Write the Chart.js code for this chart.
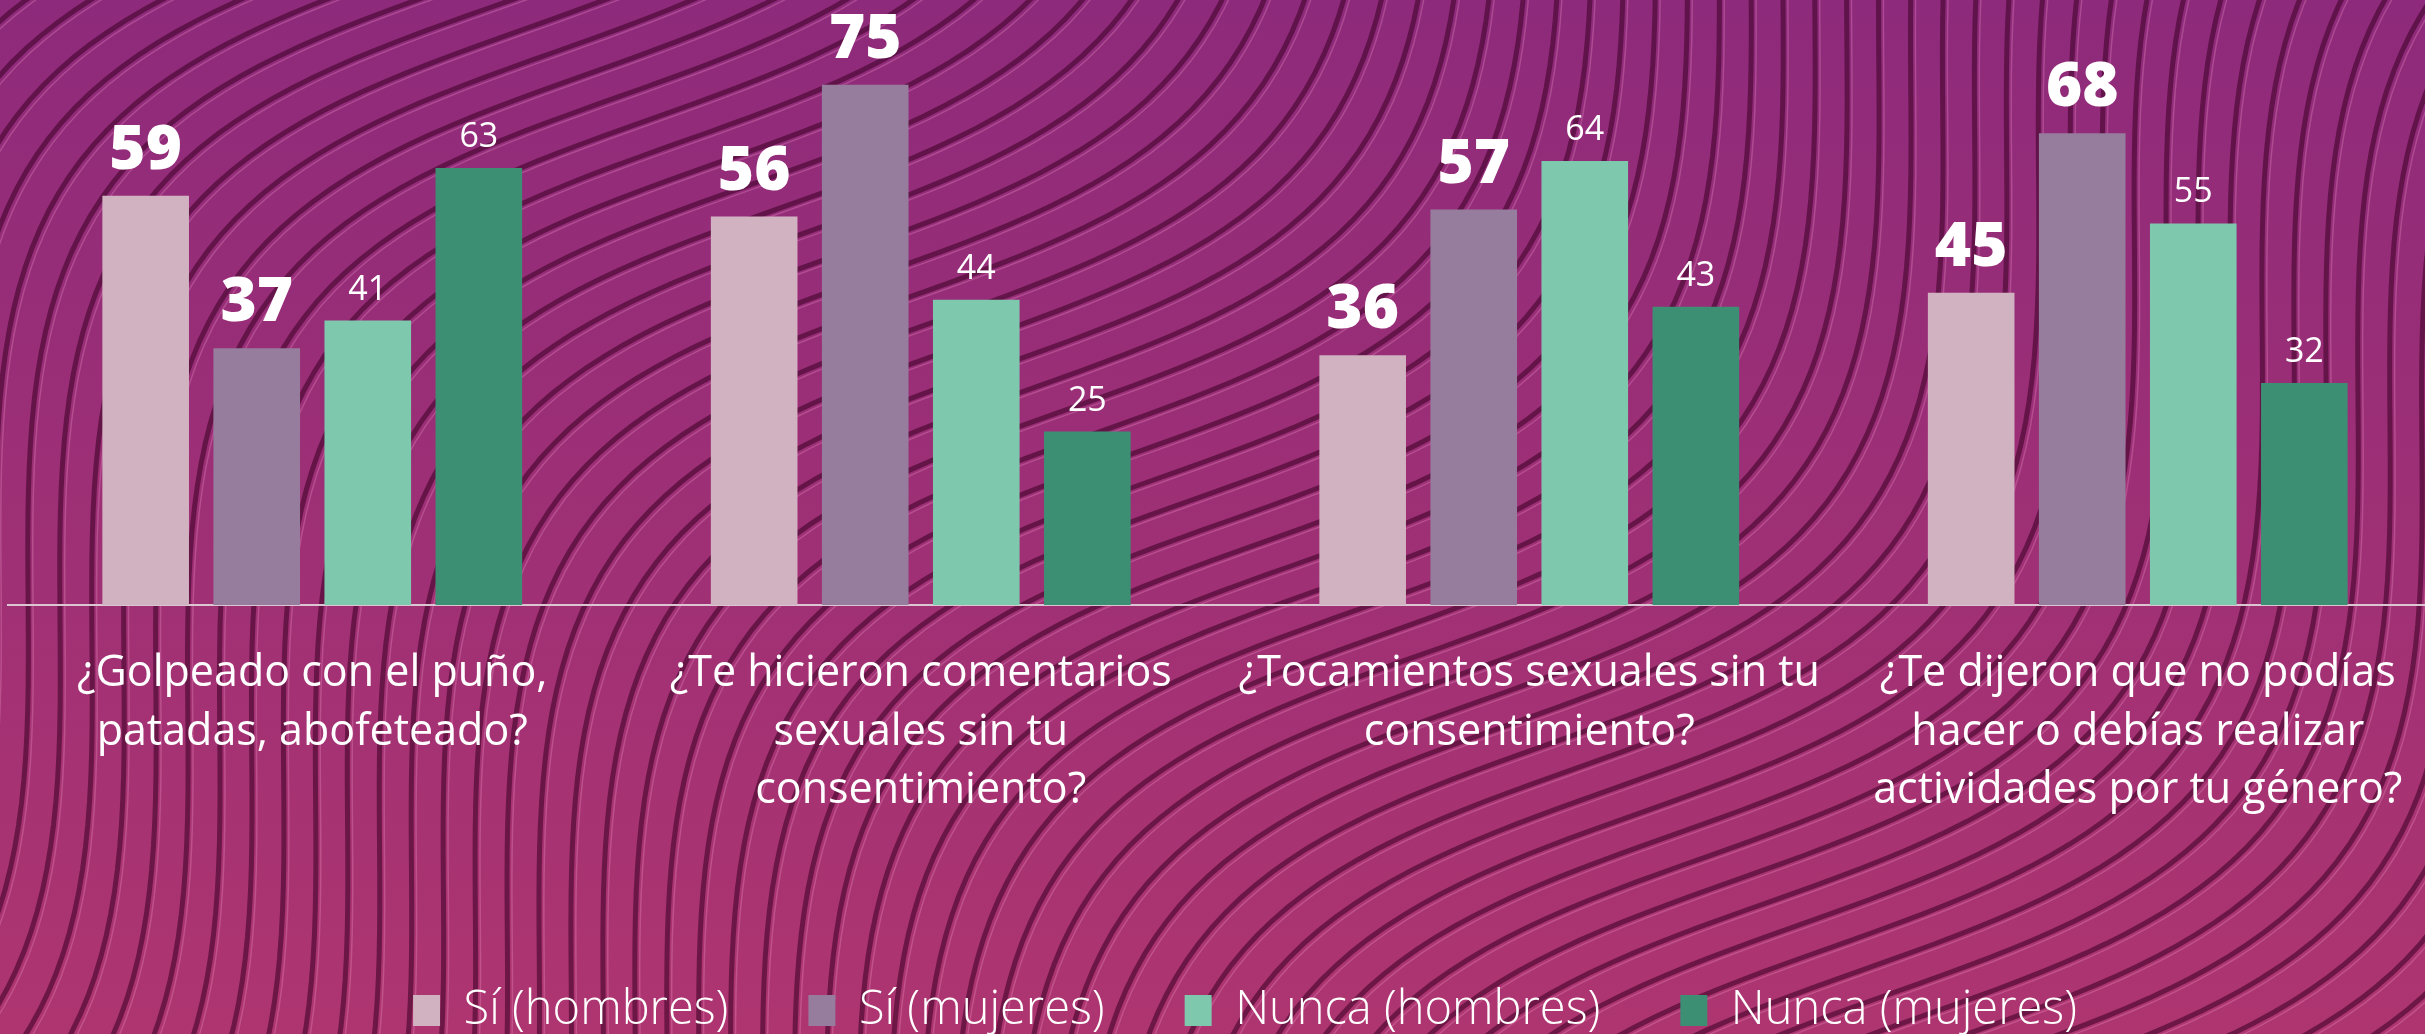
<!DOCTYPE html>
<html>
<head>
<meta charset="utf-8">
<script src="https://cdn.jsdelivr.net/npm/chart.js@4.4.1/dist/chart.umd.min.js"></script>
<style>
  html, body { margin: 0; padding: 0; overflow: hidden; background: #9a2e76; }
  #wrap { width: 2450px; height: 1044px; }
</style>
</head>
<body>
<div id="wrap"><canvas id="chart" width="2450" height="1044"></canvas></div>
<script>
// preguntas (eje x), una línea por elemento
const categories = [
    ["¿Golpeado con el puño,", "patadas, abofeteado?"],
    ["¿Te hicieron comentarios", "sexuales sin tu", "consentimiento?"],
    ["¿Tocamientos sexuales sin tu", "consentimiento?"],
    ["¿Te dijeron que no podías", "hacer o debías realizar", "actividades por tu género?"],
];

const siHombres = [59, 56, 36, 45];
const siMujeres = [37, 75, 57, 68];
const nuncaHombres = [41, 44, 64, 55];
const nuncaMujeres = [63, 25, 43, 32];

const seriesNames = ["Sí (hombres)", "Sí (mujeres)", "Nunca (hombres)", "Nunca (mujeres)"];
const seriesColors = ["#d1b2c1", "#967d9d", "#7ec8ae", "#3c8f73"];
const seriesValues = [siHombres, siMujeres, nuncaHombres, nuncaMujeres];

const FONT = "'Open Sans', 'Noto Sans', sans-serif";

// fondo morado con líneas onduladas
const background = {
    id: "background",
    beforeDraw(chart) {
        const { ctx, width, height } = chart;
        ctx.save();
        const g = ctx.createLinearGradient(0, 0, 0, height);
        g.addColorStop(0, "#8e2a7b");
        g.addColorStop(1, "#ae3570");
        ctx.fillStyle = g;
        ctx.fillRect(0, 0, width, height);

        const th = 55 * Math.PI / 180;
        const es = [Math.cos(th), -Math.sin(th)];
        const en = [Math.sin(th), Math.cos(th)];
        const cx = width / 2, cy = height / 2;
        const amp = 170, period = 1500, gap = 39;
        for (let k = -70; k <= 70; k++) {
            for (const pass of [0, 1]) {
                ctx.beginPath();
                for (let s = -2000; s <= 2000; s += 20) {
                    const n = amp * Math.sin(2 * Math.PI * s / period) + k * gap + (pass ? 6 : 0);
                    const x = cx + s * es[0] + n * en[0];
                    const y = cy + s * es[1] + n * en[1];
                    if (s === -2000) ctx.moveTo(x, y); else ctx.lineTo(x, y);
                }
                ctx.strokeStyle = pass ? "rgba(255,170,215,0.25)" : "rgba(65,4,42,0.6)";
                ctx.lineWidth = pass ? 1.5 : 5;
                ctx.stroke();
            }
        }
        ctx.restore();
    },
};

// la leyenda del original está algo desplazada a la derecha
const legendShift = {
    id: "legendShift",
    afterLayout(chart) {
        chart.legend.left += 20;
        chart.legend.right += 20;
    },
};

// números encima de cada barra
const valueLabels = {
    id: "valueLabels",
    afterDatasetsDraw(chart) {
        const ctx = chart.ctx;
        ctx.save();
        ctx.fillStyle = "#ffffff";
        ctx.textAlign = "center";
        ctx.textBaseline = "alphabetic";
        chart.data.datasets.forEach((ds, i) => {
            const bold = i < 2;
            ctx.font = bold ? `800 62px ${FONT}` : `400 34px ${FONT}`;
            chart.getDatasetMeta(i).data.forEach((bar, j) => {
                ctx.fillText(ds.data[j], bar.x, bar.y - (bold ? 27 : 21));
            });
        });
        ctx.restore();
    },
};

const data = {
    labels: categories,
    datasets: seriesNames.map((name, i) => ({
        label: name,
        data: seriesValues[i],
        backgroundColor: seriesColors[i],
        borderWidth: 0,
        categoryPercentage: 0.73,
        barPercentage: 0.78,
    })),
};

const config = {
    type: "bar",
    data: data,
    options: {
        responsive: false,
        animation: false,
        layout: { padding: { top: 50, left: 8, right: 8, bottom: 0 } },
        plugins: {
            legend: {
                position: "bottom",
                labels: {
                    color: "#ffffff",
                    font: { family: FONT, size: 47, weight: "300", lineHeight: 1 },
                    boxWidth: 27,
                    boxHeight: 31,
                    padding: 80,
                },
            },
            tooltip: { enabled: false },
        },
        scales: {
            x: {
                grid: { display: false, drawTicks: false },
                border: { display: true, color: "#dcc5d2", width: 2 },
                ticks: {
                    color: "#ffffff",
                    font: { family: FONT, size: 43, lineHeight: 1.36 },
                    padding: 40,
                    maxRotation: 0,
                    autoSkip: false,
                },
                afterFit: (scale) => { scale.height = 302; },
            },
            y: { display: false, min: 0, max: 80 },
        },
    },
    plugins: [background, legendShift, valueLabels],
};

const chart = new Chart(document.getElementById("chart"), config);
</script>
</body>
</html>
